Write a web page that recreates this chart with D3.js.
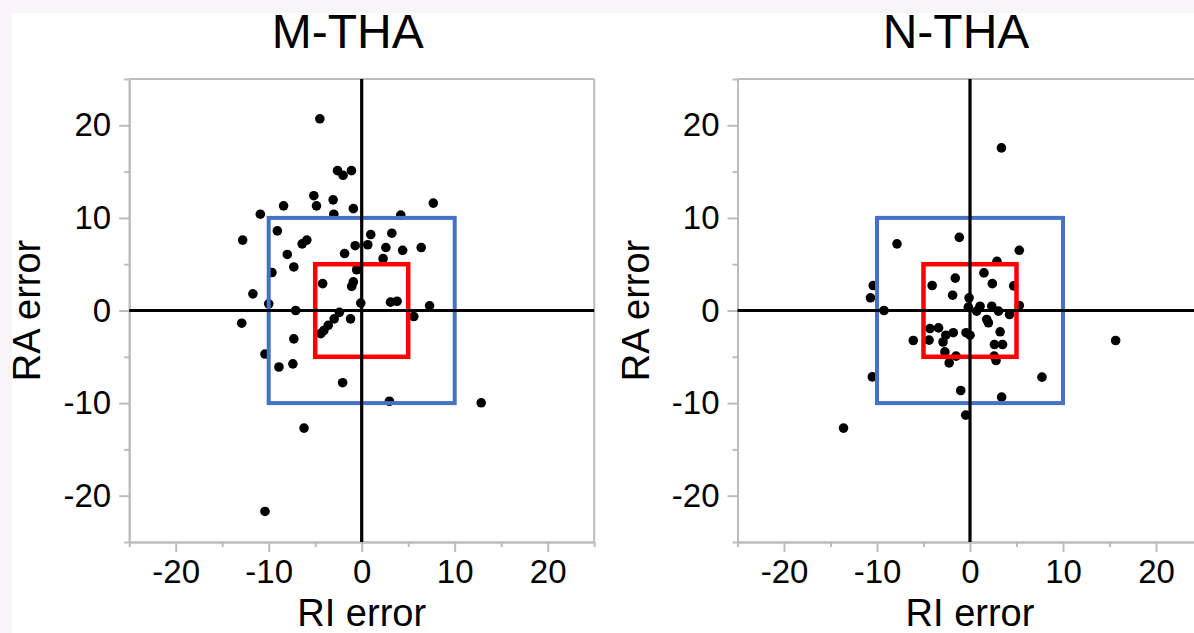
<!DOCTYPE html>
<html>
<head>
<meta charset="utf-8">
<script src="https://cdn.jsdelivr.net/npm/d3@7"></script>
<style>
body{margin:0;background:#f7f5f7;overflow:hidden;}
svg text{font-family:"Liberation Sans", Arial, sans-serif;fill:#000;}
.axis path,.axis line{stroke:#bcbcbc;stroke-width:2px;}
.axis text{font-size:33px;}
</style>
</head>
<body>
<script>
//wrap everything in a self-executing anonymous function
(function(){

//panel titles
var titles = ["M-THA", "N-THA"];

//M-THA points: RI error (x) and RA error (y)
var mthaRI = [-4.5, -2.6, -2.0, -1.1, -5.15, -3.07, -8.4, -4.86, -10.9, -3.0,
    -0.9, 7.7, 4.2, -9.07, -12.8, 0.97, 3.24, -6.4, -5.9, -0.7,
    0.65, 2.6, 4.4, 6.4, -8.0, -1.84, 2.3, -7.3, -9.65, -0.54,
    -4.2, -0.9, -1.08, -11.7, -10.0, -7.1, -0.1, 3.1, 3.8, 7.3,
    5.6, -12.9, -2.4, -2.96, -1.2, -3.6, -4.07, -4.4, -7.3, -10.4,
    -8.9, -7.4, -2.05, 2.98, 12.85, -6.2, -10.4];
var mthaRA = [20.7, 15.1, 14.6, 15.1, 12.4, 11.95, 11.3, 11.3, 10.4, 10.4,
    11.0, 11.6, 10.3, 8.6, 7.6, 8.2, 8.35, 7.2, 7.6, 7.0,
    7.1, 6.8, 6.5, 6.8, 6.05, 6.15, 5.6, 4.7, 4.1, 4.4,
    2.9, 3.1, 2.6, 1.8, 0.72, 0.0, 0.8, 0.9, 1.0, 0.5,
    -0.65, -1.37, -0.2, -0.9, -0.9, -1.6, -2.16, -2.5, -3.06, -4.7,
    -6.1, -5.76, -7.8, -9.8, -9.97, -12.7, -21.7];

//N-THA points
var nthaRI = [3.38, -1.15, -7.85, 5.3, 2.9, 1.5, -1.58, 2.4, -4.07, 4.7,
    -10.4, -1.87, -0.1, -10.7, -9.25, -0.18, 1.08, 2.34, 3.06, 0.72,
    4.25, 5.3, 1.8, 1.98, -4.3, -3.38, -1.8, -2.6, -0.43, 0.0,
    3.24, -4.4, -6.1, -2.9, 2.63, 3.5, -2.7, -1.5, -2.24, 2.6,
    2.8, -10.5, -1.0, 3.4, -0.46, -13.6, 15.66, 7.74];
var nthaRA = [17.56, 7.9, 7.2, 6.5, 5.3, 4.06, 3.5, 2.9, 2.7, 2.66,
    2.7, 1.65, 1.37, 1.37, 0.0, 0.36, 0.46, 0.46, -0.07, -0.07,
    -0.43, 0.54, -0.97, -1.33, -1.95, -1.88, -2.4, -2.67, -2.4, -2.67,
    -2.3, -3.2, -3.24, -3.4, -3.67, -3.67, -4.47, -4.93, -5.66, -4.93,
    -5.4, -7.17, -8.64, -9.36, -11.3, -12.7, -3.24, -7.2];

//axis extent, labelled ticks, minor ticks
var axisDomain = [-25, 25];
var majorTicks = [-20, -10, 0, 10, 20];
var minorTicks = [-25, -15, -5, 5, 15, 25];

//target zones (half widths)
var blueZone = [-10, 10];
var redZone = [-5, 5];

window.onload = setChart();

function setChart(){
    var width = 1194,
        height = 633;

    var svg = d3.select("body")
        .append("svg")
        .attr("width", width)
        .attr("height", height);

    //white sheet over the grey page
    svg.append("rect")
        .attr("x", 12)
        .attr("y", 13)
        .attr("width", width - 12)
        .attr("height", height - 13)
        .attr("fill", "#ffffff");

    var panels = [
        {title: titles[0], ri: mthaRI, ra: mthaRA, left: 129.2},
        {title: titles[1], ri: nthaRI, ra: nthaRA, left: 737.5}
    ];

    panels.forEach(function(p){
        drawPanel(svg, p);
    });
};

function drawPanel(svg, p){
    var size = 465,
        top = 79,
        bottom = 542;

    var x = d3.scaleLinear()
        .domain(axisDomain)
        .range([p.left, p.left + size]);

    var y = d3.scaleLinear()
        .domain(axisDomain)
        .range([bottom, top]);

    var g = svg.append("g");

    //top and right frame lines
    g.append("line")
        .attr("x1", x(-25)).attr("x2", x(25))
        .attr("y1", y(25)).attr("y2", y(25))
        .attr("stroke", "#bcbcbc").attr("stroke-width", 2);
    g.append("line")
        .attr("x1", x(25)).attr("x2", x(25))
        .attr("y1", y(25)).attr("y2", y(-25))
        .attr("stroke", "#bcbcbc").attr("stroke-width", 2);

    //left axis, major and minor
    g.append("g")
        .attr("class", "axis")
        .attr("transform", "translate(" + x(-25) + ",0)")
        .call(d3.axisLeft(y).tickValues(majorTicks).tickSize(10).tickSizeOuter(0)
            .tickPadding(8).tickFormat(function(d){ return String(d); }));
    g.append("g")
        .attr("class", "axis")
        .attr("transform", "translate(" + x(-25) + ",0)")
        .call(d3.axisLeft(y).tickValues(minorTicks).tickSize(5).tickSizeOuter(0)
            .tickFormat(""));

    //bottom axis, major and minor
    g.append("g")
        .attr("class", "axis")
        .attr("transform", "translate(0," + y(-25) + ")")
        .call(d3.axisBottom(x).tickValues(majorTicks).tickSize(10).tickSizeOuter(0)
            .tickPadding(8).tickFormat(function(d){ return String(d); }));
    g.append("g")
        .attr("class", "axis")
        .attr("transform", "translate(0," + y(-25) + ")")
        .call(d3.axisBottom(x).tickValues(minorTicks).tickSize(5).tickSizeOuter(0)
            .tickFormat(""));

    //points
    g.selectAll(".dot")
        .data(d3.range(p.ri.length))
        .enter()
        .append("circle")
        .attr("class", "dot")
        .attr("cx", function(i){ return x(p.ri[i]); })
        .attr("cy", function(i){ return y(p.ra[i]); })
        .attr("r", 4.8)
        .attr("fill", "#000");

    //target boxes
    g.append("rect")
        .attr("x", x(blueZone[0]))
        .attr("y", y(blueZone[1]))
        .attr("width", x(blueZone[1]) - x(blueZone[0]))
        .attr("height", y(blueZone[0]) - y(blueZone[1]))
        .attr("fill", "none")
        .attr("stroke", "#4472c4")
        .attr("stroke-width", 4);
    g.append("rect")
        .attr("x", x(redZone[0]))
        .attr("y", y(redZone[1]))
        .attr("width", x(redZone[1]) - x(redZone[0]))
        .attr("height", y(redZone[0]) - y(redZone[1]))
        .attr("fill", "none")
        .attr("stroke", "#ff0000")
        .attr("stroke-width", 4.5);

    //zero lines
    g.append("line")
        .attr("x1", x(0)).attr("x2", x(0))
        .attr("y1", y(25)).attr("y2", y(-25))
        .attr("stroke", "#000").attr("stroke-width", 3.2);
    g.append("line")
        .attr("x1", x(-25)).attr("x2", x(25))
        .attr("y1", y(0)).attr("y2", y(0))
        .attr("stroke", "#000").attr("stroke-width", 3.2);

    //title
    g.append("text")
        .attr("x", x(0) - 14)
        .attr("y", 48)
        .attr("text-anchor", "middle")
        .style("font-size", "48px")
        .text(p.title);

    //axis titles
    g.append("text")
        .attr("x", x(0))
        .attr("y", 626)
        .attr("text-anchor", "middle")
        .style("font-size", "38px")
        .text("RI error");
    g.append("text")
        .attr("transform", "translate(" + (x(-25) - 89) + "," + y(0) + ") rotate(-90)")
        .attr("text-anchor", "middle")
        .style("font-size", "38px")
        .text("RA error");
};

})();
</script>
</body>
</html>
